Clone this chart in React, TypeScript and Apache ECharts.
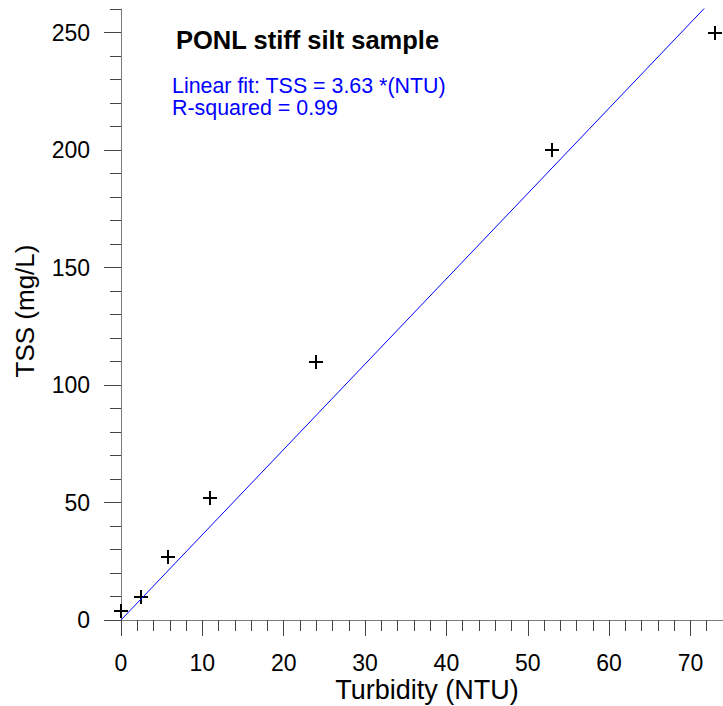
import React, { useEffect, useRef } from "react";
import * as echarts from "echarts";

const turbidity = [0, 2.4, 5.8, 10.9, 24, 53, 73];
const tss = [4, 10, 27, 52, 110, 200, 250];
const fitSlope = 3.63;
const xTickLabels = [0, 10, 20, 30, 40, 50, 60, 70];
const yTickLabels = [0, 50, 100, 150, 200, 250];
const xMax = 74;
const yMax = 260;

const FONT = "'Liberation Sans', Arial, sans-serif";
const LINE = "#7a7a7a";
const TICK = "#444";

export default function App() {
  const ref = useRef<HTMLDivElement>(null);
  useEffect(() => {
    if (!ref.current) return;
    const chart = echarts.init(ref.current, null, { renderer: "svg" });
    const gridRect = { left: 121, right: 0, top: 9, bottom: 86 };
    const points = turbidity.map((x, i) => [x, tss[i]]);
    const fit = [
      [0, 0],
      [xMax, fitSlope * xMax],
    ];
    const half = 7;
    chart.setOption({
      animation: false,
      backgroundColor: "#fff",
      grid: [
        { ...gridRect, containLabel: false },
        { ...gridRect, containLabel: false },
      ],
      xAxis: [
        {
          type: "value",
          gridIndex: 0,
          min: 0,
          max: xMax,
          interval: 10,
          axisLine: { show: true, lineStyle: { color: LINE, width: 1 } },
          axisTick: { show: true, length: 16, customValues: xTickLabels, lineStyle: { color: TICK, width: 1 } },
          axisLabel: {
            customValues: xTickLabels,
            margin: 31,
            fontSize: 23,
            color: "#000",
            fontFamily: FONT,
          },
          splitLine: { show: false },
        },
        {
          type: "value",
          gridIndex: 1,
          min: 0,
          max: xMax,
          interval: 2,
          axisLine: { show: false },
          axisTick: { show: true, length: 11, lineStyle: { color: TICK, width: 1 } },
          axisLabel: { show: false },
          splitLine: { show: false },
        },
      ],
      yAxis: [
        {
          type: "value",
          gridIndex: 0,
          min: 0,
          max: yMax,
          interval: 50,
          axisLine: { show: true, lineStyle: { color: LINE, width: 1 } },
          axisTick: { show: true, length: 17, customValues: yTickLabels, lineStyle: { color: TICK, width: 1 } },
          axisLabel: {
            customValues: yTickLabels,
            margin: 31,
            fontSize: 23,
            color: "#000",
            fontFamily: FONT,
          },
          splitLine: { show: false },
        },
        {
          type: "value",
          gridIndex: 1,
          min: 0,
          max: yMax,
          interval: 10,
          axisLine: { show: false },
          axisTick: { show: true, length: 11, lineStyle: { color: TICK, width: 1 } },
          axisLabel: { show: false },
          splitLine: { show: false },
        },
      ],
      series: [
        {
          type: "line",
          xAxisIndex: 0,
          yAxisIndex: 0,
          data: fit,
          showSymbol: false,
          clip: true,
          lineStyle: { color: "#0000ff", width: 1 },
          silent: true,
        },
        {
          type: "custom",
          xAxisIndex: 0,
          yAxisIndex: 0,
          data: points,
          clip: false,
          renderItem: (params: any, api: any) => {
            const p = api.coord([api.value(0), api.value(1)]);
            const cx = Math.round(p[0]);
            const cy = Math.round(p[1]);
            const st = { stroke: "#000", lineWidth: 2 };
            return {
              type: "group",
              children: [
                { type: "line", shape: { x1: cx - half, y1: cy, x2: cx + half, y2: cy }, style: st },
                { type: "line", shape: { x1: cx, y1: cy - half, x2: cx, y2: cy + half }, style: st },
              ],
            };
          },
        },
      ],
      graphic: [
        {
          type: "text",
          x: 176,
          y: 40,
          style: {
            text: "PONL stiff silt sample",
            font: `bold 25.5px ${FONT}`,
            fill: "#000",
            verticalAlign: "middle",
          },
        },
        {
          type: "text",
          x: 172,
          y: 86,
          style: {
            text: "Linear fit: TSS = 3.63 *(NTU)",
            font: `21.4px ${FONT}`,
            fill: "#0000ff",
            verticalAlign: "middle",
          },
        },
        {
          type: "text",
          x: 172,
          y: 108,
          style: {
            text: "R-squared = 0.99",
            font: `21.4px ${FONT}`,
            fill: "#0000ff",
            verticalAlign: "middle",
          },
        },
        {
          type: "text",
          x: 427,
          y: 690,
          style: {
            text: "Turbidity (NTU)",
            font: `27px ${FONT}`,
            fill: "#000",
            align: "center",
            verticalAlign: "middle",
          },
        },
        {
          type: "text",
          x: 25,
          y: 311,
          rotation: Math.PI / 2,
          style: {
            text: "TSS (mg/L)",
            font: `26px ${FONT}`,
            fill: "#000",
            align: "center",
            verticalAlign: "middle",
          },
        },
      ],
    });
    return () => chart.dispose();
  }, []);
  return (
    <div
      ref={ref}
      style={{ position: "absolute", left: 0, top: 0, width: 723, height: 706 }}
    />
  );
}
